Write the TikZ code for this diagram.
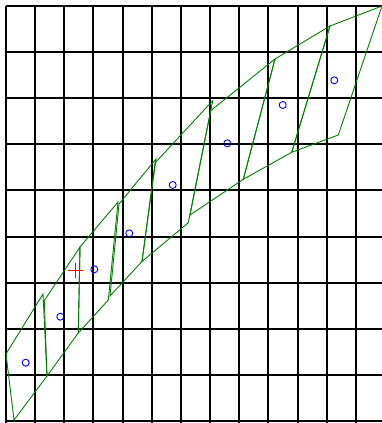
\documentclass[tikz,border=0pt]{standalone}
\begin{document}
\begin{tikzpicture}[x=1pt,y=-1pt,
  gridline/.style={black,line width=2pt},
  cell/.style={draw={rgb,255:red,0;green,128;blue,0},line width=0.9pt,line join=miter},
  ptcirc/.style={circle,draw={rgb,255:red,0;green,0;blue,255},line width=0.9pt,inner sep=0pt,minimum size=7pt},
  plusmark/.style={red,line width=0.9pt}]
\useasboundingbox (0,0) rectangle (382,423);
\fill[white] (0,0) rectangle (382,423);
% grid
\foreach \k in {0,...,12}{
  \draw[gridline] ({6+29.15*\k},6) -- ({6+29.15*\k},423);
}
\foreach \j in {0,...,9}{
  \draw[gridline] (6,{6+46.1*\j}) -- (382,{6+46.1*\j});
}
% cells
\draw[cell] (6,354) -- (43,294) -- (47,376) -- (14,420) -- cycle;
\draw[cell] (44.3,300.5) -- (80,247) -- (78.3,333) -- (47,376) -- cycle;
\draw[cell] (80,247) -- (118,202) -- (108.3,300) -- (78.3,333) -- cycle;
\draw[cell] (119,204) -- (156,159) -- (142,261.5) -- (110,296) -- cycle;
\draw[cell] (155,163) -- (212.7,100.7) -- (188.3,222.7) -- (142,261.5) -- cycle;
\draw[cell] (210.7,110.7) -- (275,59) -- (243.3,179.3) -- (190,215) -- cycle;
\draw[cell] (275,59) -- (330,26) -- (291.7,152.3) -- (243.3,179.3) -- cycle;
\draw[cell] (330,26) -- (382,6) -- (338.3,135) -- (291.7,152.3) -- cycle;
% points
\node[ptcirc] (p0) at (25.7,362.7) {};
\node[ptcirc] (p1) at (60.3,316.7) {};
\node[ptcirc] (p2) at (94.3,269.3) {};
\node[ptcirc] (p3) at (129.3,233.3) {};
\node[ptcirc] (p4) at (172.7,185) {};
\node[ptcirc] (p5) at (227.3,143.3) {};
\node[ptcirc] (p6) at (282.7,105) {};
\node[ptcirc] (p7) at (334.3,80.3) {};
% red plus
\coordinate (xp) at (75,270.7);
\draw[plusmark] ([xshift=-7.5pt]xp) -- ([xshift=7.5pt]xp);
\draw[plusmark] ([yshift=-7.5pt]xp) -- ([yshift=7.5pt]xp);
\end{tikzpicture}
\end{document}
